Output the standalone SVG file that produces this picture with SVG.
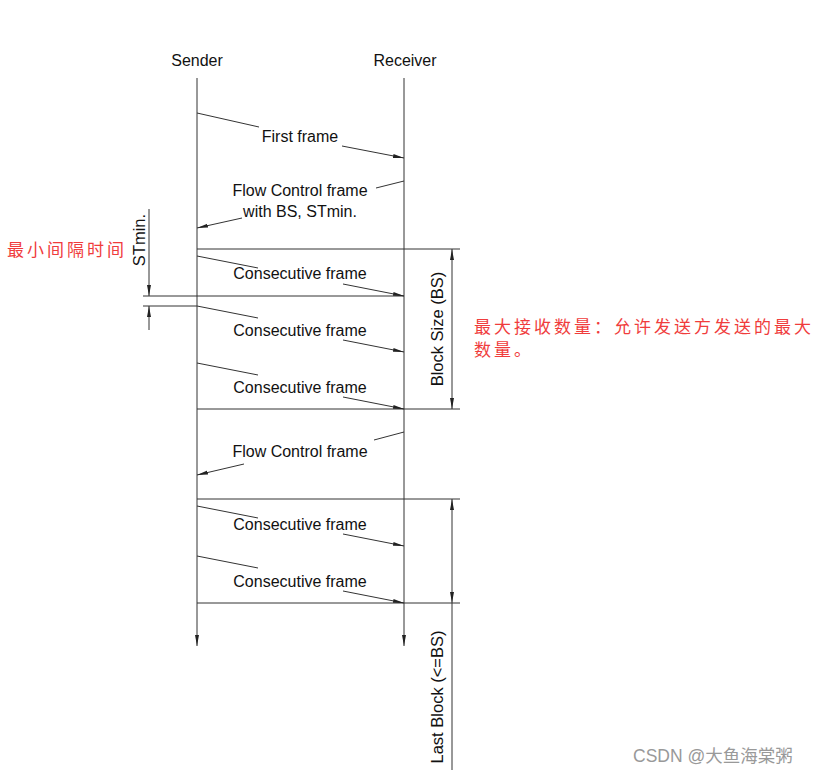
<svg xmlns="http://www.w3.org/2000/svg" width="818" height="774" viewBox="0 0 818 774">
<style>
.ln{stroke:#333;stroke-width:1;fill:none}
.t{font-family:"Liberation Sans",Arial,sans-serif;font-size:16px;fill:#111;text-anchor:middle}
.r{font-size:16.5px}
.cn{font-family:"Noto Sans CJK SC",sans-serif;font-size:17px;fill:#f03c3c;letter-spacing:3px}
.wm{font-family:"Liberation Sans","Noto Sans CJK SC",sans-serif;font-size:17.5px;fill:#999}
</style>
<defs>
<marker id="ah" markerWidth="12" markerHeight="6" refX="11" refY="3" orient="auto" markerUnits="userSpaceOnUse">
<path d="M0,1 L11,3 L0,5 Z" fill="#222"/>
</marker>
<marker id="as" markerWidth="12" markerHeight="6" refX="1" refY="3" orient="auto" markerUnits="userSpaceOnUse">
<path d="M12,1 L1,3 L12,5 Z" fill="#222"/>
</marker>
</defs>
<rect width="818" height="774" fill="#fff"/>
<g id="sender">
<text class="t" x="197" y="66">Sender</text>
</g>
<g id="receiver">
<text class="t" x="405" y="66">Receiver</text>
</g>
<g id="connectors">
<line class="ln" x1="197" y1="78" x2="197" y2="646" marker-end="url(#ah)"/>
<line class="ln" x1="404" y1="78" x2="404" y2="646" marker-end="url(#ah)"/>
<line class="ln" x1="197" y1="113" x2="259" y2="127"/>
<line class="ln" x1="342" y1="146" x2="404" y2="158" marker-end="url(#ah)"/>
<line class="ln" x1="404" y1="181" x2="376" y2="188"/>
<line class="ln" x1="242" y1="218" x2="197" y2="228" marker-end="url(#ah)"/>
<line class="ln" x1="197" y1="249" x2="460" y2="249"/>
<line class="ln" x1="143" y1="296" x2="404" y2="296"/>
<line class="ln" x1="143" y1="306" x2="197" y2="306"/>
<line class="ln" x1="197" y1="409" x2="460" y2="409"/>
<line class="ln" x1="197" y1="499" x2="460" y2="499"/>
<line class="ln" x1="197" y1="603" x2="460" y2="603"/>
<line class="ln" x1="197" y1="256" x2="258" y2="268"/>
<line class="ln" x1="343" y1="284" x2="404" y2="296" marker-end="url(#ah)"/>
<line class="ln" x1="197" y1="306" x2="258" y2="318"/>
<line class="ln" x1="343" y1="340" x2="404" y2="352" marker-end="url(#ah)"/>
<line class="ln" x1="197" y1="363" x2="258" y2="375"/>
<line class="ln" x1="343" y1="397" x2="404" y2="409" marker-end="url(#ah)"/>
<line class="ln" x1="404" y1="432" x2="374" y2="440"/>
<line class="ln" x1="244" y1="464" x2="197" y2="475" marker-end="url(#ah)"/>
<line class="ln" x1="197" y1="506" x2="258" y2="518"/>
<line class="ln" x1="343" y1="534" x2="404" y2="546" marker-end="url(#ah)"/>
<line class="ln" x1="197" y1="556" x2="258" y2="568"/>
<line class="ln" x1="343" y1="591" x2="404" y2="603" marker-end="url(#ah)"/>
<line class="ln" x1="149" y1="209" x2="149" y2="296" marker-end="url(#ah)"/>
<line class="ln" x1="149" y1="330" x2="149" y2="306" marker-end="url(#ah)"/>
<line class="ln" x1="452" y1="249" x2="452" y2="409" marker-start="url(#as)" marker-end="url(#ah)"/>
<line class="ln" x1="452" y1="499" x2="452" y2="603" marker-start="url(#as)" marker-end="url(#ah)"/>
<line class="ln" x1="452" y1="603" x2="452" y2="770"/>
</g>
<g id="labels">
<text class="t" x="300" y="142">First frame</text>
<text class="t" x="300" y="196">Flow Control frame</text>
<text class="t" x="300" y="217">with BS, STmin.</text>
<text class="t" x="300" y="279">Consecutive frame</text>
<text class="t" x="300" y="336">Consecutive frame</text>
<text class="t" x="300" y="393">Consecutive frame</text>
<text class="t" x="300" y="457">Flow Control frame</text>
<text class="t" x="300" y="530">Consecutive frame</text>
<text class="t" x="300" y="587">Consecutive frame</text>
<text class="t r" transform="translate(145,240) rotate(-90)">STmin.</text>
<text class="t r" transform="translate(443,329) rotate(-90)">Block Size (BS)</text>
<text class="t r" transform="translate(443,697) rotate(-90)">Last Block (&lt;=BS)</text>
</g>
<g id="notes">
<text class="cn" x="7" y="256">最小间隔时间</text>
<text class="cn" x="474" y="333">最大接收数量：允许发送方发送的最大</text>
<text class="cn" x="474" y="356">数量。</text>
<text class="wm" x="633" y="762">CSDN @大鱼海棠粥</text>
</g>
</svg>
